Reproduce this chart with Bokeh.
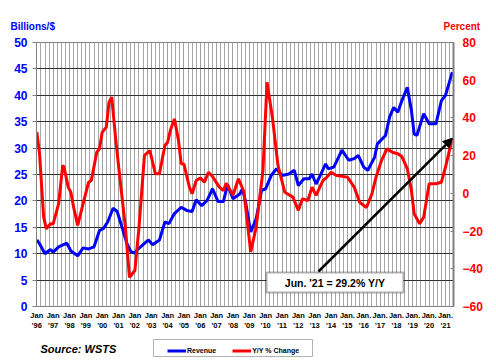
from bokeh.plotting import figure
from bokeh.layouts import column
from bokeh.models import (Range1d, LinearAxis, FixedTicker, Label, BoxAnnotation,
                          Arrow, NormalHead, Legend, LegendItem, ColumnDataSource)
from bokeh.embed import file_html
from bokeh.resources import INLINE

# ---------------- data ----------------
rev_dates = ["1996-01", "1996-03", "1996-07", "1996-11", "1997-01", "1997-05", "1997-11",
             "1998-02", "1998-07", "1998-11", "1999-03", "1999-07", "1999-11", "2000-02",
             "2000-05", "2000-09", "2000-12", "2001-04", "2001-07", "2001-10", "2002-01",
             "2002-03", "2002-11", "2003-02", "2003-07", "2003-11", "2004-02", "2004-06",
             "2004-11", "2005-03", "2005-07", "2005-10", "2006-02", "2006-06", "2006-10",
             "2007-02", "2007-06", "2007-09", "2008-01", "2008-06", "2008-08", "2008-10",
             "2009-02", "2009-06", "2009-10", "2010-01", "2010-05", "2010-09", "2011-01",
             "2011-06", "2011-10", "2012-01", "2012-05", "2012-09", "2012-11", "2013-02",
             "2013-05", "2013-09", "2013-11", "2014-03", "2014-09", "2015-02", "2015-06",
             "2015-09", "2016-01", "2016-04", "2016-09", "2016-11", "2017-05", "2017-08",
             "2017-11", "2018-02", "2018-05", "2018-09", "2018-12", "2019-02", "2019-04",
             "2019-09", "2020-01", "2020-06", "2020-10", "2021-01", "2021-06"]
rev_values = [12.6, 11.9, 10.0, 10.8, 10.3, 11.3, 12.0,
              10.5, 9.6, 11.1, 10.9, 11.3, 14.4, 14.8,
              16.0, 18.6, 18.0, 14.6, 12.0, 10.4, 10.1,
              10.8, 12.6, 11.7, 12.6, 16.0, 15.7, 17.6,
              18.8, 18.2, 18.0, 20.2, 19.1, 20.1, 22.3,
              19.9, 19.9, 23.1, 20.4, 21.3, 22.3, 20.1,
              14.1, 16.6, 22.0, 22.3, 24.8, 26.1, 24.8,
              25.1, 25.8, 22.9, 24.2, 24.2, 25.1, 23.2,
              24.8, 27.0, 26.1, 26.4, 29.6, 27.7, 28.0,
              28.6, 26.4, 25.8, 28.3, 30.8, 32.4, 35.9,
              37.7, 36.8, 39.0, 41.5, 37.1, 32.7, 32.4,
              36.5, 34.6, 34.6, 39.0, 40.0, 44.4]

yoy_dates = ["1996-01", "1996-03", "1996-06", "1996-08", "1996-11", "1997-01", "1997-05",
             "1997-08", "1997-09", "1997-12", "1998-02", "1998-04", "1998-07", "1998-11",
             "1999-03", "1999-05", "1999-09", "1999-11", "2000-01", "2000-04", "2000-06",
             "2000-08", "2000-11", "2001-03", "2001-06", "2001-09", "2002-01", "2002-04",
             "2002-08", "2002-12", "2003-04", "2003-07", "2003-11", "2004-01", "2004-03",
             "2004-06", "2004-09", "2004-11", "2005-01", "2005-05", "2005-07", "2005-10",
             "2006-01", "2006-04", "2006-07", "2006-10", "2007-03", "2007-06", "2007-08",
             "2008-01", "2008-05", "2008-09", "2009-02", "2009-06", "2009-11", "2010-02",
             "2010-06", "2010-10", "2011-03", "2011-09", "2012-01", "2012-04", "2012-08",
             "2012-11", "2013-02", "2013-07", "2013-10", "2014-01", "2014-05", "2015-01",
             "2015-06", "2015-10", "2016-03", "2016-07", "2016-10", "2017-02", "2017-06",
             "2017-10", "2018-02", "2018-05", "2018-09", "2018-12", "2019-02", "2019-06",
             "2019-09", "2020-01", "2020-06", "2020-10", "2021-01", "2021-06"]
yoy_values = [32.5, 21.0, -12.6, -18.8, -16.1, -16.2, -5.5,
              14.8, 14.0, 3.3, 0.6, -7.3, -17.0, -5.5,
              5.9, 6.8, 21.8, 23.6, 32.4, 35.1, 48.3,
              51.0, 28.0, 1.5, -17.9, -44.5, -40.9, -18.0,
              20.1, 22.7, 10.4, 10.4, 25.4, 27.1, 33.3,
              39.5, 28.0, 15.7, 15.5, 3.3, -0.2, 6.8,
              8.2, 5.9, 11.2, 8.9, 3.3, 1.5, 5.4,
              -1.0, 7.7, 1.0, -31.0, -18.0, 12.0, 58.9,
              40.0, 15.0, 0.6, -2.0, -9.0, -2.9, -3.8,
              3.3, -1.1, 6.8, 8.6, 11.2, 9.5, 8.6,
              3.3, -4.7, -7.5, -0.2, 8.6, 17.4, 23.6,
              21.8, 21.0, 19.5, 13.0, 1.5, -10.8, -16.1,
              -12.6, 5.1, 5.1, 5.9, 13.9, 29.2]

tick_years = list(range(1996, 2022))
tick_labels = [("Jan." if y >= 2015 else "Jan") + "\n'" + str(y)[2:] for y in tick_years]
left_ticks = list(range(0, 51, 5))
right_ticks = list(range(-60, 81, 20))
annotation_text = "Jun. '21 = 29.2% Y/Y"

# ---------------- helpers ----------------
def to_year(d):
    y, m = d.split("-")
    return int(y) + (int(m) - 1) / 12.0

FONT = "Liberation Sans"
BLUE = "#0000FF"
RED = "#FF0000"
W = 496

def blank(h):
    f = figure(width=W, height=h, output_backend="svg", toolbar_location=None, title=None,
               x_range=Range1d(0, W), y_range=Range1d(0, h),
               x_axis_type=None, y_axis_type=None, min_border=0)
    f.outline_line_color = None
    f.grid.visible = False
    f.background_fill_color = "white"
    f.border_fill_color = "white"
    f.frame_align = False
    return f

rev_src = ColumnDataSource(dict(x=[to_year(d) for d in rev_dates], y=rev_values))
yoy_src = ColumnDataSource(dict(x=[to_year(d) for d in yoy_dates], y=yoy_values))

# ---------------- top strip: axis titles ----------------
top = blank(36)
top.add_layout(Label(x=10, y=26, x_units="canvas", y_units="canvas", text="Billions/$",
                     text_font=FONT, text_font_style="bold", text_font_size="10px",
                     text_color=BLUE, text_baseline="middle"))
top.add_layout(Label(x=443, y=26, x_units="canvas", y_units="canvas", text="Percent",
                     text_font=FONT, text_font_style="bold", text_font_size="10px",
                     text_color=RED, text_baseline="middle"))

# ---------------- main chart ----------------
p = figure(width=W, height=298, output_backend="svg", toolbar_location=None, title=None,
           x_range=Range1d(1995.98, 2021.49), y_range=Range1d(0, 50),
           min_border_left=36, min_border_right=43, min_border_top=6, min_border_bottom=28)
p.frame_align = False
p.extra_y_ranges = {"pct": Range1d(-60, 80)}
p.outline_line_color = "#808080"
p.outline_line_width = 1
p.background_fill_color = "white"
p.border_fill_color = "white"

# bottom axis with quarterly minor ticks (used by the vertical grid)
quarters = [y + q / 4.0 for y in range(1996, 2022) for q in range(1, 4)]
xa = p.xaxis[0]
xa.ticker = FixedTicker(ticks=tick_years, minor_ticks=quarters)
xa.major_label_overrides = {y: lab for y, lab in zip(tick_years, tick_labels)}
xa.major_label_text_font = FONT
xa.major_label_text_font_style = "bold"
xa.major_label_text_font_size = "7.5px"
xa.major_label_text_color = "black"
xa.major_label_text_line_height = 1.2
xa.axis_line_color = "#808080"
xa.major_tick_line_color = None
xa.minor_tick_line_color = None
xa.major_tick_out = 0
xa.major_tick_in = 0
xa.minor_tick_out = 0
xa.minor_tick_in = 0
xa.major_label_standoff = 4

p.xgrid.grid_line_color = "#a0a0a0"
p.xgrid.grid_line_width = 1
p.xgrid.minor_grid_line_color = "#a8a8a8"
p.xgrid.minor_grid_line_width = 1

# left axis
la = p.yaxis[0]
la.ticker = FixedTicker(ticks=left_ticks)
la.major_label_text_font = FONT
la.major_label_text_font_style = "bold"
la.major_label_text_font_size = "12px"
la.major_label_text_color = BLUE
la.axis_line_color = "#808080"
la.major_tick_line_color = "#808080"
la.major_tick_out = 4
la.major_tick_in = 0
la.minor_tick_line_color = None
la.minor_tick_out = 0
la.minor_tick_in = 0
la.major_label_standoff = 5
p.ygrid.grid_line_color = "#303030"
p.ygrid.grid_line_width = 1

# right axis
ra = LinearAxis(y_range_name="pct", ticker=FixedTicker(ticks=right_ticks))
ra.major_label_text_font = FONT
ra.major_label_text_font_style = "bold"
ra.major_label_text_font_size = "12px"
ra.major_label_text_color = RED
ra.axis_line_color = "#808080"
ra.axis_line_width = 2
ra.major_tick_line_color = "#808080"
ra.major_tick_out = 0
ra.major_tick_in = 3
ra.minor_tick_line_color = None
ra.minor_tick_out = 0
ra.minor_tick_in = 0
ra.major_label_standoff = 9
p.add_layout(ra, "right")

# series
r_rev = p.line("x", "y", source=rev_src, line_color=BLUE, line_width=3)
r_yoy = p.line("x", "y", source=yoy_src, line_color=RED, line_width=3, y_range_name="pct")

# arrow + annotation box
p.add_layout(Arrow(end=NormalHead(size=9, fill_color="black", line_color="black"),
                   x_start=282, y_start=35, start_units="screen",
                   x_end=to_year(yoy_dates[-1]), y_end=yoy_values[-1], end_units="data",
                   y_range_name="pct", line_color="black", line_width=2.5))
p.add_layout(BoxAnnotation(left=230, right=367, bottom=14, top=34,
                           left_units="screen", right_units="screen",
                           bottom_units="screen", top_units="screen",
                           fill_color="white", fill_alpha=1, line_color="black", line_width=2))
p.add_layout(Label(x=298.5, y=24, x_units="screen", y_units="screen", text=annotation_text,
                   text_font=FONT, text_font_style="bold", text_font_size="10.5px",
                   text_align="center", text_baseline="middle", text_color="black"))

# ---------------- bottom strip: source + legend ----------------
bot = blank(28)
bot.add_layout(Label(x=40, y=14, text="Source: WSTS", text_font=FONT,
                     text_font_style="bold italic", text_font_size="11px",
                     text_color="black", text_baseline="middle"))
bot.add_layout(BoxAnnotation(left=153, right=312, bottom=6, top=23,
                             fill_alpha=0, line_color="black", line_width=1))
d_rev = bot.line("x", "y", source=rev_src, line_color=BLUE, line_width=3)
d_yoy = bot.line("x", "y", source=yoy_src, line_color=RED, line_width=3)
legend = Legend(items=[LegendItem(label="Revenue", renderers=[d_rev]),
                       LegendItem(label="Y/Y % Change", renderers=[d_yoy])],
                location=(167, 7), orientation="horizontal",
                glyph_width=19, glyph_height=9, label_height=9, label_standoff=1,
                spacing=16, padding=3, margin=0,
                label_text_font=FONT, label_text_font_style="bold",
                label_text_font_size="7px", label_text_color="black",
                border_line_color=None, background_fill_alpha=0,
                inactive_fill_alpha=0)
bot.add_layout(legend, "center")

layout = column(top, p, bot, spacing=0)
open("out.html", "w").write(file_html(layout, INLINE))
